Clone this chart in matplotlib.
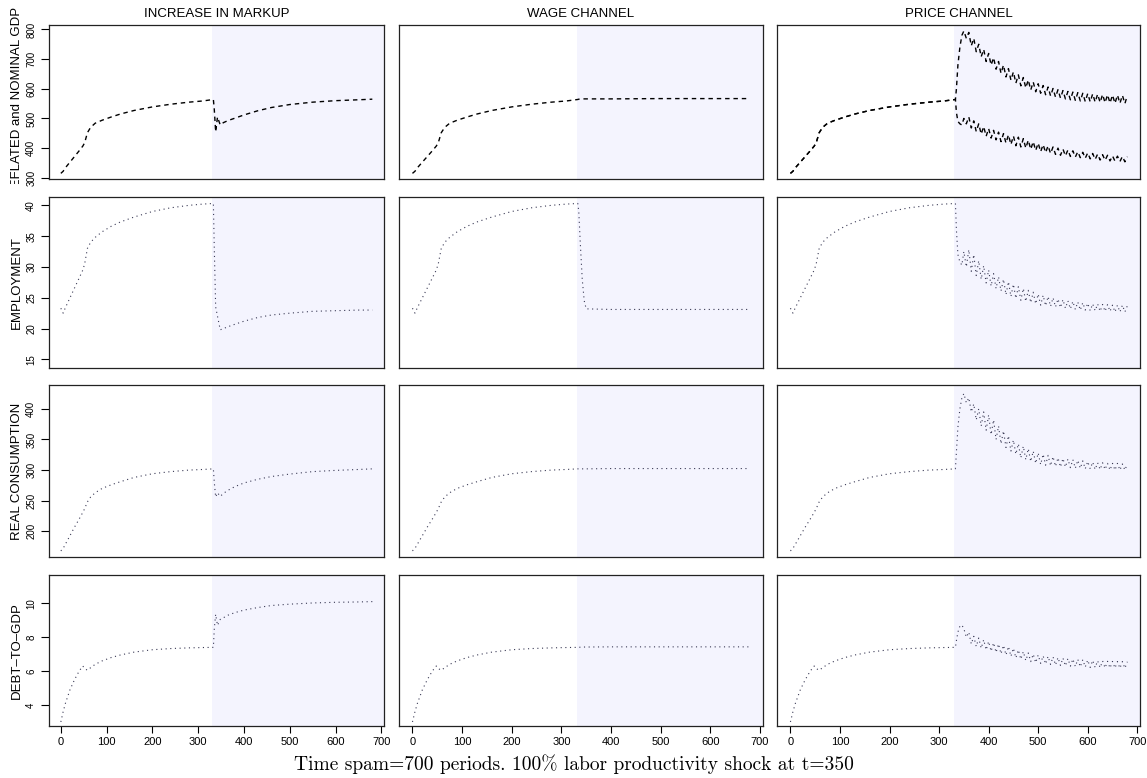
import numpy as np
import matplotlib
matplotlib.use("Agg")
import matplotlib.pyplot as plt
from matplotlib.transforms import Bbox, TransformedBbox

plt.rcParams['font.family'] = ['Liberation Sans', 'DejaVu Sans']

col_titles = ["INCREASE IN MARKUP", "WAGE CHANNEL", "PRICE CHANNEL"]
row_labels = ["DEFLATED and NOMINAL GDP", "EMPLOYMENT", "REAL CONSUMPTION", "DEBT\u2013TO\u2013GDP"]
caption = "Time spam=700 periods. 100% labor productivity shock at t=350"

# ---- pre-shock path (same in all three experiments) ----
t_pre = [0, 5, 10, 20, 30, 40, 48, 52, 58, 65, 75, 90, 110, 130, 160, 200, 240, 280, 310, 333]
gdp_pre = [315, 322, 334, 353, 372, 391, 407, 418, 452, 470, 484, 494, 505, 515, 527, 539, 548, 555, 559, 564]
emp_pre = [23.3, 22.5, 23.4, 25.0, 26.6, 28.2, 29.5, 30.5, 33.0, 34.0, 34.8, 35.7, 36.6, 37.3, 38.1, 39.0, 39.6, 40.0, 40.2, 40.3]
cons_pre = [168, 172, 179, 193, 207, 220, 231, 237, 248, 256, 263, 270, 276, 281, 288, 294, 297.5, 300, 301, 302]
debt_pre = [3.0, 3.6, 4.1, 4.9, 5.5, 6.0, 6.3, 6.15, 6.05, 6.2, 6.4, 6.6, 6.8, 6.95, 7.12, 7.26, 7.33, 7.37, 7.39, 7.4]

# ---- increase in markup ----
t_mk = [335, 338, 342, 348, 355, 365, 380, 400, 430, 460, 500, 550, 600, 650, 680]
gdp_mk = [530, 455, 505, 478, 486, 493, 501, 512, 526, 537, 547, 555, 560, 563, 565]
emp_mk = [33.0, 23.5, 22.0, 19.8, 20.0, 20.3, 20.7, 21.2, 21.8, 22.2, 22.5, 22.8, 22.9, 23.0, 23.0]
cons_mk = [280, 256, 263, 257, 262, 267, 273, 279, 285, 289.5, 293.5, 297.5, 299.5, 301, 302]
debt_mk = [8.5, 9.35, 8.7, 9.05, 9.15, 9.3, 9.45, 9.6, 9.75, 9.87, 9.95, 10.02, 10.06, 10.08, 10.1]

# ---- wage channel ----
t_wg = [335, 338, 342, 346, 350, 400, 500, 600, 680]
gdp_wg = [565, 565, 566, 566, 566, 566, 567, 567, 567]
emp_wg = [39.0, 34.0, 28.0, 24.5, 23.2, 23.1, 23.1, 23.1, 23.1]
cons_wg = [302, 302, 302, 302, 302, 302.5, 302.5, 302.5, 302.5]
debt_wg = [7.4, 7.41, 7.42, 7.42, 7.42, 7.43, 7.43, 7.43, 7.43]

# ---- price channel: jump, then oscillation (lows at 355,365,..., highs at 360,370,...) ----
t_pj = [335, 338, 342, 346, 350]
t_lo = np.arange(355, 676, 10)
t_hi = np.arange(360, 681, 10)

nom_pj = [600, 680, 740, 780, 795]
nom_lo = [770, 745, 725, 708, 692, 680, 666, 652, 640, 629, 619, 610, 603, 596, 590, 585, 580,
          576, 572, 569, 566, 563, 561, 559, 557, 556, 555, 554, 553, 552, 551, 551, 550]
nom_hi = [790, 770, 750, 733, 719, 705, 692, 680, 668, 657, 647, 638, 630, 623, 617, 611, 606,
          601, 597, 594, 591, 589, 587, 585, 584, 583, 582, 581, 580, 579, 579, 578, 578]

defl_pj = [520, 490, 482, 478, 500]
defl_lo = [482, 468, 456, 447, 440, 434, 428, 422, 417, 412, 408, 404, 400, 396, 392, 388, 385,
           382, 379, 376, 374, 372, 370, 368, 366, 364, 362, 360, 359, 357, 356, 355, 354]
defl_hi = [505, 492, 482, 473, 466, 460, 454, 449, 445, 441, 437, 432, 427, 422, 417, 412, 408,
           404, 400, 397, 394, 391, 388, 386, 384, 382, 380, 378, 376, 374, 373, 372, 371]

emp_pj = [36.0, 32.0, 30.8, 30.3, 32.5]
emp_lo = [30.0, 29.3, 28.6, 28.0, 27.4, 26.9, 26.5, 26.1, 25.5, 25.2, 24.9, 24.6, 24.4, 24.2, 24.0, 23.8, 23.7,
          23.6, 23.5, 23.4, 23.3, 23.2, 23.1, 23.0, 23.0, 22.9, 22.9, 22.8, 22.8, 22.8, 22.7, 22.7, 22.7]
emp_hi = [32.8, 32.0, 31.0, 30.2, 29.5, 28.9, 28.4, 28.0, 27.6, 27.2, 26.8, 26.5, 26.2, 25.9, 25.6, 25.4, 25.2,
          25.0, 24.8, 24.7, 24.5, 24.4, 24.3, 24.2, 24.1, 24.0, 24.0, 23.9, 23.9, 23.8, 23.8, 23.8, 23.7]

cons_pj = [330, 370, 400, 418, 425]
cons_lo = [410, 395, 382, 372, 365, 358, 350, 343, 337, 331, 326, 320, 317, 314, 311, 309, 308,
           307, 306, 305, 305, 304, 303, 303, 302, 302, 301, 301, 301, 300, 300, 300, 300]
cons_hi = [418, 408, 400, 395, 390, 382, 372, 364, 356, 349, 343, 339, 335, 331, 328, 326, 324,
           322, 320, 319, 318, 317, 316, 315, 314, 313, 312, 312, 311, 311, 311, 310, 310]

debt_pj = [7.8, 8.3, 8.65, 8.72, 8.5]
debt_lo = [8.0, 7.6, 7.45, 7.35, 7.25, 7.17, 7.1, 7.02, 6.95, 6.87, 6.78, 6.7, 6.62, 6.56, 6.5, 6.46, 6.42,
           6.39, 6.36, 6.33, 6.31, 6.29, 6.27, 6.25, 6.24, 6.22, 6.21, 6.2, 6.19, 6.18, 6.18, 6.17, 6.17]
debt_hi = [8.3, 8.05, 7.95, 7.85, 7.75, 7.67, 7.6, 7.52, 7.45, 7.35, 7.25, 7.15, 7.07, 7.0, 6.95, 6.9, 6.87,
           6.84, 6.8, 6.77, 6.74, 6.71, 6.69, 6.67, 6.65, 6.63, 6.61, 6.6, 6.58, 6.57, 6.56, 6.56, 6.55]

ylims = [(296, 815), (13.6, 41.35), (158, 439), (2.76, 11.67)]
yticks = [[300, 400, 500, 600, 700, 800], [15, 20, 25, 30, 35, 40], [200, 250, 300, 350, 400], [4, 6, 8, 10]]
xticks = [0, 100, 200, 300, 400, 500, 600, 700]
shock_start = 331


def zig(lo, hi):
    t = np.ravel(np.column_stack([t_lo, t_hi]))
    v = np.ravel(np.column_stack([lo, hi]))
    return t, v


def join(pre, t_post, post, lo=None, hi=None):
    t = list(t_pre) + list(t_post)
    v = list(pre) + list(post)
    if lo is not None:
        tz, vz = zig(lo, hi)
        t += list(tz)
        v += list(vz)
    return t, v


panels = [
    [[join(gdp_pre, t_mk, gdp_mk)], [join(gdp_pre, t_wg, gdp_wg)],
     [join(gdp_pre, t_pj, nom_pj, nom_lo, nom_hi), join(gdp_pre, t_pj, defl_pj, defl_lo, defl_hi)]],
    [[join(emp_pre, t_mk, emp_mk)], [join(emp_pre, t_wg, emp_wg)], [join(emp_pre, t_pj, emp_pj, emp_lo, emp_hi)]],
    [[join(cons_pre, t_mk, cons_mk)], [join(cons_pre, t_wg, cons_wg)], [join(cons_pre, t_pj, cons_pj, cons_lo, cons_hi)]],
    [[join(debt_pre, t_mk, debt_mk)], [join(debt_pre, t_wg, debt_wg)], [join(debt_pre, t_pj, debt_pj, debt_lo, debt_hi)]],
]

W, H = 1147, 778
lefts = [48.7, 399.3, 777.3]
rights = [384, 762.7, 1140]
tops = [25, 197, 385, 575]
bottoms = [179, 368, 557, 726]

fig = plt.figure(figsize=(W / 100, H / 100), dpi=100)

for r in range(4):
    for c in range(3):
        ax = fig.add_axes([lefts[c] / W, 1 - bottoms[r] / H, (rights[c] - lefts[c]) / W, (bottoms[r] - tops[r]) / H])
        ax.axvspan(shock_start, 800, color='#f4f4fe', lw=0, zorder=0)
        for t, v in panels[r][c]:
            if r == 0:
                ax.plot(t, v, color='black', lw=1.0, dashes=(3.2, 2.8), zorder=2)
            else:
                ax.plot(t, v, color='#3a3a55', lw=0.8, dashes=(1, 3.2), zorder=2)
        ax.set_xlim(-26.5, 705.5)
        ax.set_ylim(*ylims[r])
        for s in ax.spines.values():
            s.set_linewidth(0.9)
            s.set_color('#222222')
        if c == 0:
            ax.set_yticks(yticks[r])
            ax.tick_params(axis='y', length=6, width=0.8, labelsize=7, pad=3, labelrotation=90)
            for lab in ax.get_yticklabels():
                lab.set_va('center')
        else:
            ax.set_yticks([])
        if r == 3:
            ax.set_xticks(xticks)
            ax.tick_params(axis='x', length=5, width=0.8, labelsize=8, pad=3)
        else:
            ax.set_xticks([])
        if r == 0:
            ax.set_title(col_titles[c], fontsize=9.5, pad=6)

for r in range(4):
    yc = 1 - (tops[r] + bottoms[r]) / 2 / H
    txt = fig.text(17 / W, yc, row_labels[r], rotation=90, ha='center', va='center', fontsize=9.5)
    if r == 0:
        txt.set_clip_box(TransformedBbox(Bbox([[0, 1 - 184 / H], [0.1, 1]]), fig.transFigure))
        txt.set_clip_on(True)

fig.text(574 / W, 1 - 764 / H, caption, ha='center', va='center', fontsize=14, family='cmr10')

fig.savefig("out.png", dpi=100)
